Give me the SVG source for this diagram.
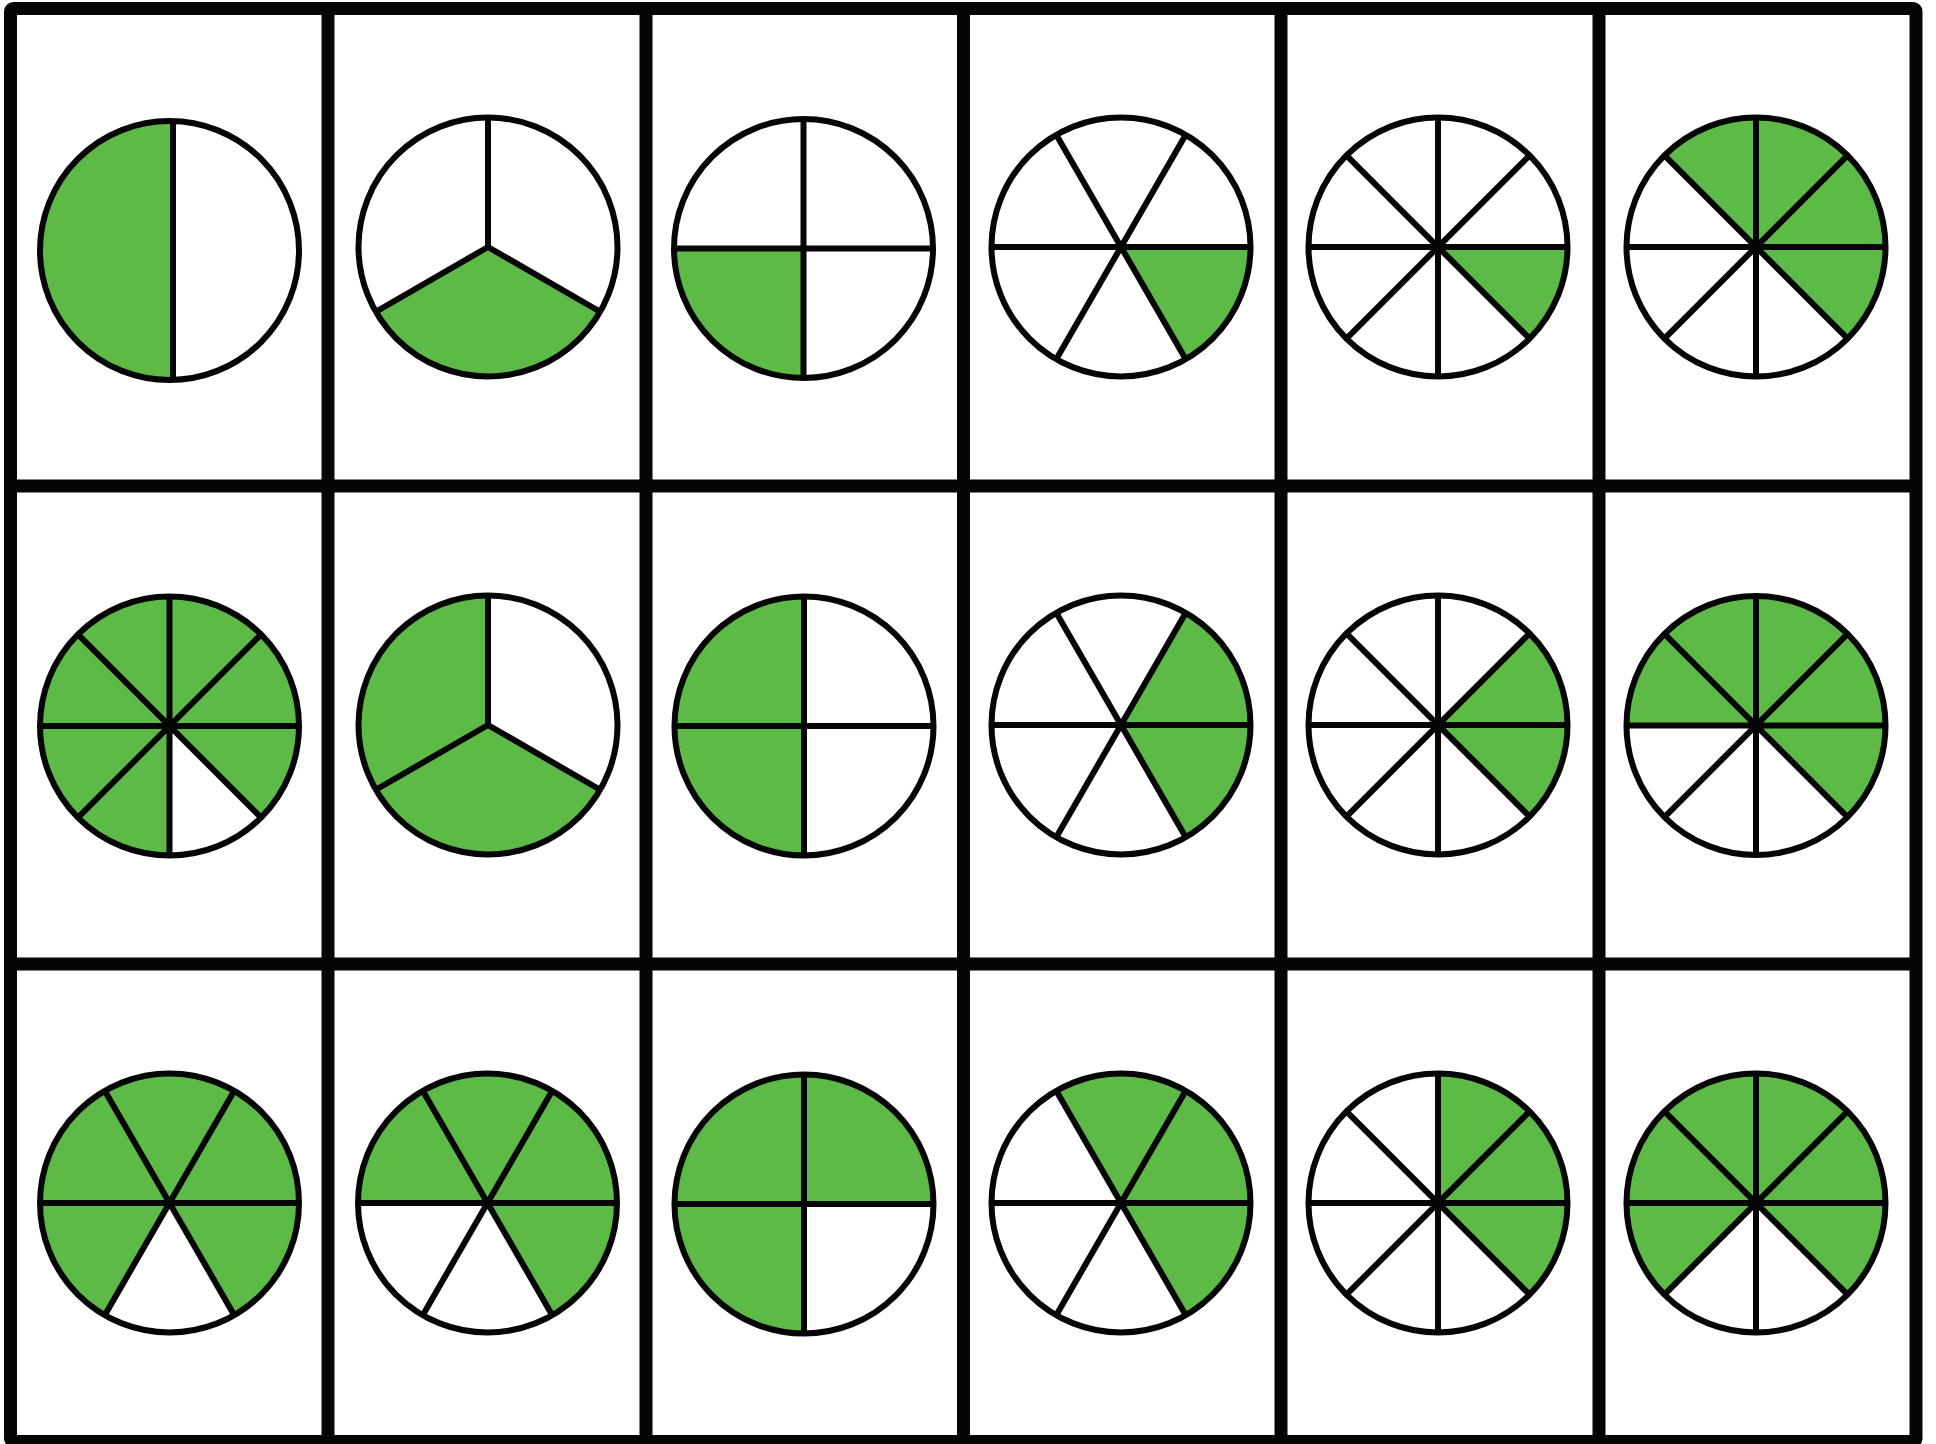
<svg xmlns="http://www.w3.org/2000/svg" xmlns:xlink="http://www.w3.org/1999/xlink" width="1936" height="1444" viewBox="0 0 1936 1444">
<style>
.grid{fill:none;stroke:#050505;stroke-width:13;stroke-linejoin:round}
.base{fill:#ffffff}
.g{fill:#5dba47}
.sp{fill:none;stroke:#050505;stroke-width:6}
.ol{fill:none;stroke:#050505;stroke-width:6}
</style>
<defs>
<path id="s3" class="sp" d="M0,0 V-129.5 M0,0 L112.15,64.75 M0,0 L-112.15,64.75"/>
<path id="s4" class="sp" d="M-129.5,0 H129.5 M0,-129.5 V129.5"/>
<path id="s6" class="sp" d="M-129.5,0 H129.5 M-64.75,-112.15 L64.75,112.15 M64.75,-112.15 L-64.75,112.15"/>
<path id="s8" class="sp" d="M-129.5,0 H129.5 M0,-129.5 V129.5 M-91.57,-91.57 L91.57,91.57 M91.57,-91.57 L-91.57,91.57"/>
<circle id="bg" class="base" r="129.5"/>
<circle id="ol" class="ol" r="129.5"/>
</defs>
<rect width="1936" height="1444" fill="#ffffff"/>
<g id="grid">
<rect class="grid" x="10.5" y="8.5" width="1905.5" height="1433" rx="3"/>
<path class="grid" d="M328,8.5 V1441.5 M646,8.5 V1441.5 M963.5,8.5 V1441.5 M1281,8.5 V1441.5 M1599,8.5 V1441.5 M10.5,486 H1916 M10.5,964 H1916"/>
</g>
<g id="r1c1" transform="translate(169.5,250.5)">
<use href="#bg"/>
<path class="g" d="M3.5,-129.45 A129.5,129.5 0 1 0 3.5,129.45 Z"/>
<path class="sp" d="M3.5,-129.5 V129.5"/>
<use href="#ol"/>
</g>
<g id="r1c2" transform="translate(488,247)">
<use href="#bg"/>
<path class="g" d="M0,0 L112.15,64.75 A129.5,129.5 0 0 1 -112.15,64.75 Z"/>
<use href="#s3"/><use href="#ol"/>
</g>
<g id="r1c3" transform="translate(803.5,248.5)">
<use href="#bg"/>
<path class="g" d="M0,0 L0,129.5 A129.5,129.5 0 0 1 -129.5,0 Z"/>
<use href="#s4"/><use href="#ol"/>
</g>
<g id="r1c4" transform="translate(1121,247)">
<use href="#bg"/>
<path class="g" d="M0,0 L129.5,0 A129.5,129.5 0 0 1 64.75,112.15 Z"/>
<use href="#s6"/><use href="#ol"/>
</g>
<g id="r1c5" transform="translate(1438,247)">
<use href="#bg"/>
<path class="g" d="M0,0 L129.5,0 A129.5,129.5 0 0 1 91.57,91.57 Z"/>
<use href="#s8"/><use href="#ol"/>
</g>
<g id="r1c6" transform="translate(1756,247)">
<use href="#bg"/>
<path class="g" d="M0,0 L-91.57,-91.57 A129.5,129.5 0 0 1 91.57,91.57 Z"/>
<use href="#s8"/><use href="#ol"/>
</g>
<g id="r2c1" transform="translate(169.5,726)">
<use href="#bg"/>
<path class="g" d="M0,0 L0,129.5 A129.5,129.5 0 1 1 91.57,91.57 Z"/>
<use href="#s8"/><use href="#ol"/>
</g>
<g id="r2c2" transform="translate(488,725)">
<use href="#bg"/>
<path class="g" d="M0,0 L112.15,64.75 A129.5,129.5 0 1 1 0,-129.5 Z"/>
<use href="#s3"/><use href="#ol"/>
</g>
<g id="r2c3" transform="translate(804,726)">
<use href="#bg"/>
<path class="g" d="M0,0 L0,129.5 A129.5,129.5 0 0 1 0,-129.5 Z"/>
<use href="#s4"/><use href="#ol"/>
</g>
<g id="r2c4" transform="translate(1121,725)">
<use href="#bg"/>
<path class="g" d="M0,0 L64.75,-112.15 A129.5,129.5 0 0 1 64.75,112.15 Z"/>
<use href="#s6"/><use href="#ol"/>
</g>
<g id="r2c5" transform="translate(1438,725)">
<use href="#bg"/>
<path class="g" d="M0,0 L91.57,-91.57 A129.5,129.5 0 0 1 91.57,91.57 Z"/>
<use href="#s8"/><use href="#ol"/>
</g>
<g id="r2c6" transform="translate(1756,725.5)">
<use href="#bg"/>
<path class="g" d="M0,0 L-129.5,0 A129.5,129.5 0 1 1 91.57,91.57 Z"/>
<use href="#s8"/><use href="#ol"/>
</g>
<g id="r3c1" transform="translate(169.5,1203)">
<use href="#bg"/>
<path class="g" d="M0,0 L-64.75,112.15 A129.5,129.5 0 1 1 64.75,112.15 Z"/>
<use href="#s6"/><use href="#ol"/>
</g>
<g id="r3c2" transform="translate(487.5,1203)">
<use href="#bg"/>
<path class="g" d="M0,0 L-129.5,0 A129.5,129.5 0 1 1 64.75,112.15 Z"/>
<use href="#s6"/><use href="#ol"/>
</g>
<g id="r3c3" transform="translate(804,1204)">
<use href="#bg"/>
<path class="g" d="M0,0 L0,129.5 A129.5,129.5 0 1 1 129.5,0 Z"/>
<use href="#s4"/><use href="#ol"/>
</g>
<g id="r3c4" transform="translate(1121,1203)">
<use href="#bg"/>
<path class="g" d="M0,0 L-64.75,-112.15 A129.5,129.5 0 0 1 64.75,112.15 Z"/>
<use href="#s6"/><use href="#ol"/>
</g>
<g id="r3c5" transform="translate(1438,1203)">
<use href="#bg"/>
<path class="g" d="M0,0 L0,-129.5 A129.5,129.5 0 0 1 91.57,91.57 Z"/>
<use href="#s8"/><use href="#ol"/>
</g>
<g id="r3c6" transform="translate(1756,1203)">
<use href="#bg"/>
<path class="g" d="M0,0 L-91.57,91.57 A129.5,129.5 0 1 1 91.57,91.57 Z"/>
<use href="#s8"/><use href="#ol"/>
</g>
</svg>
